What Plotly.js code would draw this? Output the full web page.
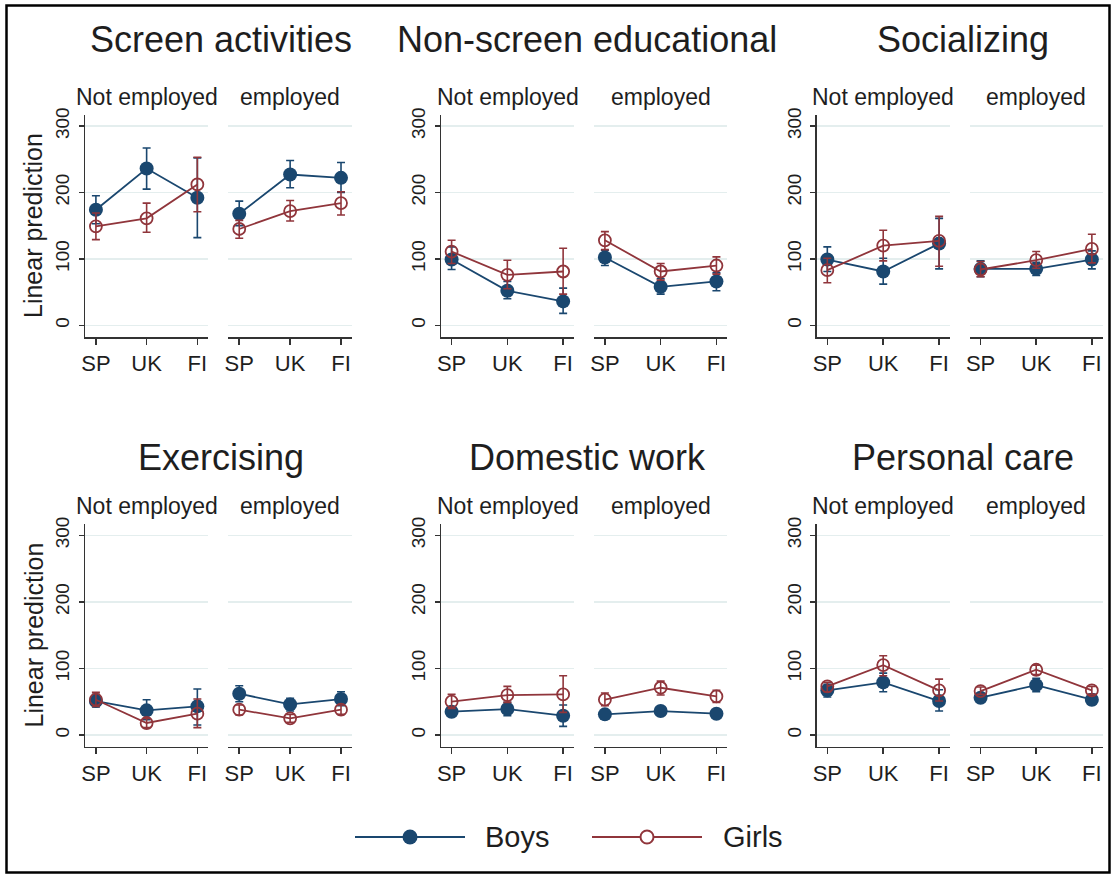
<!DOCTYPE html>
<html>
<head>
<meta charset="utf-8">
<script src="https://cdn.plot.ly/plotly-3.0.1.min.js"></script>
<style>
  html, body { margin: 0; padding: 0; background: #ffffff; }
  #chart { width: 1116px; height: 874px; }
</style>
</head>
<body>
<div id="chart"></div>
<script>
// ---------------- data ----------------
const countries = ['SP', 'UK', 'FI'];
const activities = ['Screen activities', 'Non-screen educational', 'Socializing',
                    'Exercising', 'Domestic work', 'Personal care'];
const employment = ['Not employed', 'employed'];
const seriesNames = ['Boys', 'Girls'];
const yTicks = [0, 100, 200, 300];
const yTitle = 'Linear prediction';

// each row: [Not employed SP, UK, FI, employed SP, UK, FI]
const boysMean = [
  [174, 236, 192, 168, 227, 222],
  [99, 52, 36, 102, 58, 66],
  [99, 81, 123, 85, 85, 99],
  [51, 37, 43, 62, 46, 54],
  [35, 39, 29, 31, 36, 32],
  [67, 79, 51, 56, 75, 53]
];
const boysLow = [
  [153, 205, 132, 150, 207, 200],
  [84, 40, 18, 90, 47, 52],
  [81, 62, 85, 73, 75, 85],
  [42, 23, 15, 50, 36, 44],
  [29, 29, 13, 26, 30, 27],
  [57, 65, 36, 50, 65, 46]
];
const boysHigh = [
  [195, 267, 252, 187, 248, 245],
  [118, 66, 56, 113, 70, 79],
  [118, 101, 161, 97, 95, 112],
  [61, 53, 69, 74, 55, 65],
  [42, 49, 45, 35, 41, 37],
  [76, 93, 68, 62, 85, 61]
];
const girlsMean = [
  [149, 161, 212, 145, 172, 184],
  [111, 76, 81, 128, 81, 90],
  [83, 120, 127, 84, 98, 115],
  [53, 18, 32, 38, 25, 38],
  [50, 60, 61, 53, 71, 58],
  [73, 105, 67, 66, 98, 67]
];
const girlsLow = [
  [129, 140, 171, 131, 157, 166],
  [93, 55, 47, 114, 68, 77],
  [64, 97, 89, 73, 86, 94],
  [43, 11, 11, 30, 19, 31],
  [40, 49, 34, 44, 60, 49],
  [65, 89, 51, 61, 91, 61]
];
const girlsHigh = [
  [169, 184, 253, 158, 188, 201],
  [128, 98, 116, 141, 93, 103],
  [101, 143, 164, 96, 111, 137],
  [64, 25, 54, 45, 31, 45],
  [61, 73, 89, 63, 81, 67],
  [79, 119, 84, 72, 105, 73]
];

// ---------------- styling / geometry ----------------
const W = 1116, H = 874;
const NAVY = '#1a476f', MAROON = '#90353b';
const TXT = '#1e1e1e', AX = '#333333', GRID = '#e4eeee';
const FONT = 'Liberation Sans, Arial, Helvetica, sans-serif';

// pixel spans of sub-plot areas [left sub, right sub] for each column
const colSpans = [
  [[85, 208], [228.3, 351.7]],
  [[441, 574], [594.3, 727.3]],
  [[816.7, 950], [970, 1102.7]]
];
const colXRange = [[-0.215, 2.21], [-0.19, 2.195], [-0.19, 2.195]];
const rowSpans = [[115, 337], [524.3, 746.7]];
const yRange = [-17.6, 316.6];
const titleY = [40, 457];
const subY = [97, 506];

const traces = [];
const layout = {
  width: W, height: H,
  margin: {l: 0, r: 0, t: 0, b: 0},
  paper_bgcolor: '#ffffff', plot_bgcolor: '#ffffff',
  showlegend: false,
  font: {family: FONT, color: TXT},
  annotations: [], shapes: []
};

function sub(arr, e) { return arr.slice(e * 3, e * 3 + 3); }

activities.forEach((act, a) => {
  const row = Math.floor(a / 3), col = a % 3;
  const [py0, py1] = rowSpans[row];
  employment.forEach((emp, e) => {
    const k = a * 2 + e + 1;
    const xn = k === 1 ? 'x' : 'x' + k;
    const yn = k === 1 ? 'y' : 'y' + k;
    const [px0, px1] = colSpans[col][e];
    layout[k === 1 ? 'xaxis' : 'xaxis' + k] = {
      domain: [px0 / W, px1 / W], anchor: yn,
      type: 'category', categoryorder: 'array', categoryarray: countries,
      range: colXRange[col],
      showline: true, linecolor: AX, linewidth: 1.5,
      ticks: 'outside', ticklen: 6, tickwidth: 1.5, tickcolor: AX,
      showgrid: false, zeroline: false, fixedrange: true,
      tickfont: {family: FONT, size: 22, color: TXT}
    };
    const ya = {
      domain: [1 - py1 / H, 1 - py0 / H], anchor: xn,
      range: yRange, tickmode: 'array', tickvals: yTicks,
      showgrid: true, gridcolor: GRID, gridwidth: 1.5,
      zeroline: false, fixedrange: true
    };
    if (e === 0) {
      Object.assign(ya, {
        showline: true, linecolor: AX, linewidth: 1.5,
        ticks: 'outside', ticklen: 5, tickwidth: 1.5, tickcolor: AX,
        tickangle: -90, showticklabels: true, ticklabelstandoff: 2,
        tickfont: {family: FONT, size: 19, color: TXT}
      });
    } else {
      Object.assign(ya, {showline: false, ticks: '', showticklabels: false});
    }
    layout[k === 1 ? 'yaxis' : 'yaxis' + k] = ya;

    // boys
    const bm = sub(boysMean[a], e), bl = sub(boysLow[a], e), bh = sub(boysHigh[a], e);
    traces.push({
      type: 'scatter', mode: 'lines+markers', name: seriesNames[0],
      x: countries, y: bm, xaxis: xn, yaxis: yn,
      line: {color: NAVY, width: 1.8},
      marker: {color: NAVY, size: 14, symbol: 'circle'},
      error_y: {type: 'data', symmetric: false,
        array: bh.map((v, i) => v - bm[i]), arrayminus: bm.map((v, i) => v - bl[i]),
        color: NAVY, thickness: 1.6, width: 4},
      hoverinfo: 'skip'
    });
    // girls
    const gm = sub(girlsMean[a], e), gl = sub(girlsLow[a], e), gh = sub(girlsHigh[a], e);
    traces.push({
      type: 'scatter', mode: 'lines+markers', name: seriesNames[1],
      x: countries, y: gm, xaxis: xn, yaxis: yn,
      line: {color: MAROON, width: 1.8},
      marker: {color: MAROON, size: 12, symbol: 'circle-open', line: {width: 1.8, color: MAROON}},
      error_y: {type: 'data', symmetric: false,
        array: gh.map((v, i) => v - gm[i]), arrayminus: gm.map((v, i) => v - gl[i]),
        color: MAROON, thickness: 1.6, width: 4},
      hoverinfo: 'skip'
    });

    // sub-title (employment status)
    layout.annotations.push({
      xref: 'paper', yref: 'paper', x: ((px0 + px1) / 2) / W, y: 1 - subY[row] / H,
      xanchor: 'center', yanchor: 'middle', showarrow: false,
      text: emp, font: {family: FONT, size: 23, color: TXT}
    });
  });
  // activity title
  const cx = (colSpans[col][0][0] + colSpans[col][1][1]) / 2 + 3;
  layout.annotations.push({
    xref: 'paper', yref: 'paper', x: cx / W, y: 1 - titleY[row] / H,
    xanchor: 'center', yanchor: 'middle', showarrow: false,
    text: act, font: {family: FONT, size: 36, color: TXT}
  });
  if (col === 0) {
    layout.annotations.push({
      xref: 'paper', yref: 'paper', x: 33 / W, y: 1 - ((py0 + py1) / 2) / H,
      xanchor: 'center', yanchor: 'middle', showarrow: false, textangle: -90,
      text: yTitle, font: {family: FONT, size: 25, color: TXT}
    });
  }
});

// ---------------- legend (drawn) ----------------
const legY = 1 - 837 / H;
const legItems = [
  {name: seriesNames[0], color: NAVY, x0: 355, x1: 465, mx: 410, tx: 483, filled: true},
  {name: seriesNames[1], color: MAROON, x0: 592, x1: 702, mx: 647, tx: 721, filled: false}
];
legItems.forEach(it => {
  layout.shapes.push({type: 'line', xref: 'paper', yref: 'paper',
    x0: it.x0 / W, x1: it.x1 / W, y0: legY, y1: legY,
    line: {color: it.color, width: 2.2}});
  const r = it.filled ? 7.5 : 6.5;
  layout.shapes.push({type: 'circle', xref: 'paper', yref: 'paper',
    x0: (it.mx - r) / W, x1: (it.mx + r) / W, y0: legY - r / H, y1: legY + r / H,
    fillcolor: it.filled ? it.color : '#ffffff',
    line: {color: it.color, width: it.filled ? 0 : 2}});
  layout.annotations.push({xref: 'paper', yref: 'paper', x: it.tx / W, y: legY,
    xanchor: 'left', yanchor: 'middle', showarrow: false,
    text: it.name, font: {family: FONT, size: 29, color: TXT}});
});

// outer frame
layout.shapes.push({type: 'rect', xref: 'paper', yref: 'paper',
  x0: 6.5 / W, x1: 1109.5 / W, y0: 1 - 872.5 / H, y1: 1 - 5.5 / H,
  line: {color: '#000000', width: 2.5}, fillcolor: 'rgba(0,0,0,0)'});

Plotly.newPlot('chart', traces, layout, {staticPlot: true, displayModeBar: false});
</script>
</body>
</html>
